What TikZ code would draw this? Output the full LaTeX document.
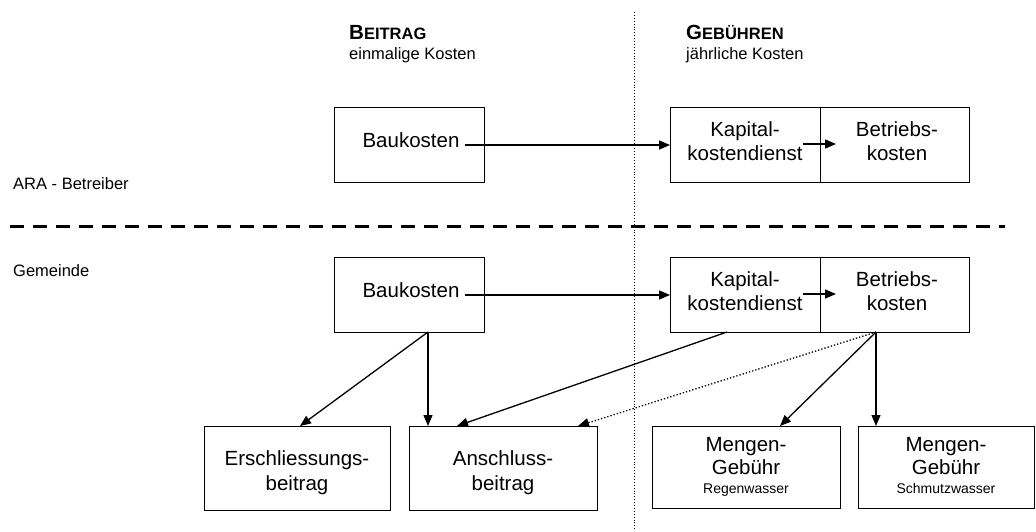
\documentclass[tikz,border=0pt]{standalone}
\usepackage{fontspec}
\setmainfont{Liberation Sans}
\usetikzlibrary{arrows.meta,calc}
\begin{document}
\begin{tikzpicture}[x=1pt,y=-1pt,
  box/.style={draw,line width=0.9pt,minimum width=#1,minimum height=75pt,inner sep=0pt,outer sep=0pt,anchor=north west},
  box/.default=150pt,
  btxt/.style={font=\fontsize{20.5}{23.5}\selectfont,align=center,inner sep=0pt},
  conn/.style={line width=1.3pt,-{Triangle[length=11pt,width=9pt]}},
  dconn/.style={line width=1.3pt,dotted,-{Triangle[length=11pt,width=9pt]}},
  lbl/.style={font=\fontsize{16.5}{20}\selectfont,inner sep=0pt,anchor=base west}]
\useasboundingbox (0,0) rectangle (1036,531);
% headers
\node[lbl] (h1) at (349,39) {\textbf{{\fontsize{20.5}{24}\selectfont B}{\fontsize{16.5}{24}\selectfont EITRAG}}};
\node[lbl] (h1s) at (349,59) {einmalige Kosten};
\node[lbl] (h2) at (686,39) {\textbf{{\fontsize{20.5}{24}\selectfont G}{\fontsize{16.5}{24}\selectfont EBÜHREN}}};
\node[lbl] (h2s) at (686,59) {jährliche Kosten};
\node[lbl] (ara) at (13,189) {ARA - Betreiber};
\node[lbl] (gem) at (13,276) {Gemeinde};
% separators
\draw[line width=0.9pt,dotted] (634,12) -- (634,531);
\draw[line width=3pt,dash pattern=on 14pt off 9pt] (10,226) -- (1005,226);
% top row
\node[box] (bk1) at (334,107) {};
\node[btxt] (bk1t) at (411,140) {Baukosten};
\node[box] (kap1) at (670,107) {};
\node[btxt] (kap1t) at (745,141) {Kapital-\\kostendienst};
\node[box=149pt] (bet1) at (820,107) {};
\node[btxt] (bet1t) at (897,141) {Betriebs-\\kosten};
\coordinate (a1) at (836,144);
% bottom row (Gemeinde)
\node[box] (bk2) at (334,257) {};
\node[btxt] (bk2t) at (411,290) {Baukosten};
\node[box] (kap2) at (670,257) {};
\node[btxt] (kap2t) at (745,291) {Kapital-\\kostendienst};
\node[box=149pt] (bet2) at (820,257) {};
\node[btxt] (bet2t) at (897,291) {Betriebs-\\kosten};
\coordinate (a2) at (836,294);
% result boxes
\node[box=186pt,minimum height=84pt] (er) at (204,426) {};
\node[btxt,font=\fontsize{20.5}{25}\selectfont] at ([yshift=-5pt]er.center) {Erschliessungs-\\beitrag};
\node[box=188pt,minimum height=84pt] (an) at (409,426) {};
\node[btxt,font=\fontsize{20.5}{25}\selectfont] at ([yshift=-5pt]an.center) {Anschluss-\\beitrag};
\node[box=188pt,minimum height=82pt] (mr) at (652,426) {};
\node[btxt,anchor=north] at ([yshift=-11pt]mr.north) {Mengen-\\Gebühr\\[-5pt]{\fontsize{14}{16}\selectfont Regenwasser}};
\node[box=176pt,minimum height=82pt] (ms) at (858,426) {};
\node[btxt,anchor=north] at ([yshift=-11pt]ms.north) {Mengen-\\Gebühr\\[-5pt]{\fontsize{14}{16}\selectfont Schmutzwasser}};
% connectors
\draw[conn] ([xshift=5pt]bk1t.east |- 0,145) -- (kap1.west |- 0,145);
\draw[conn] (kap1t.east |- a1) -- (a1);
\draw[conn] ([xshift=5pt]bk2t.east |- 0,295) -- (kap2.west |- 0,295);
\draw[conn] (kap2t.east |- a2) -- (a2);
\draw[conn] ([xshift=19pt]bk2.south) -- ([xshift=3pt]er.north);
\draw[conn] ([xshift=19pt]bk2.south) -- ([xshift=-75pt]an.north);
\draw[conn] ([xshift=-18pt]kap2.south) -- ([xshift=-46pt]an.north);
\draw[dconn] ([xshift=-18.5pt]bet2.south) -- ([xshift=75pt]an.north);
\draw[conn] ([xshift=-18.5pt]bet2.south) -- ([xshift=34pt]mr.north);
\draw[conn] ([xshift=-18.5pt]bet2.south) -- ([xshift=-70pt]ms.north);
\end{tikzpicture}
\end{document}
